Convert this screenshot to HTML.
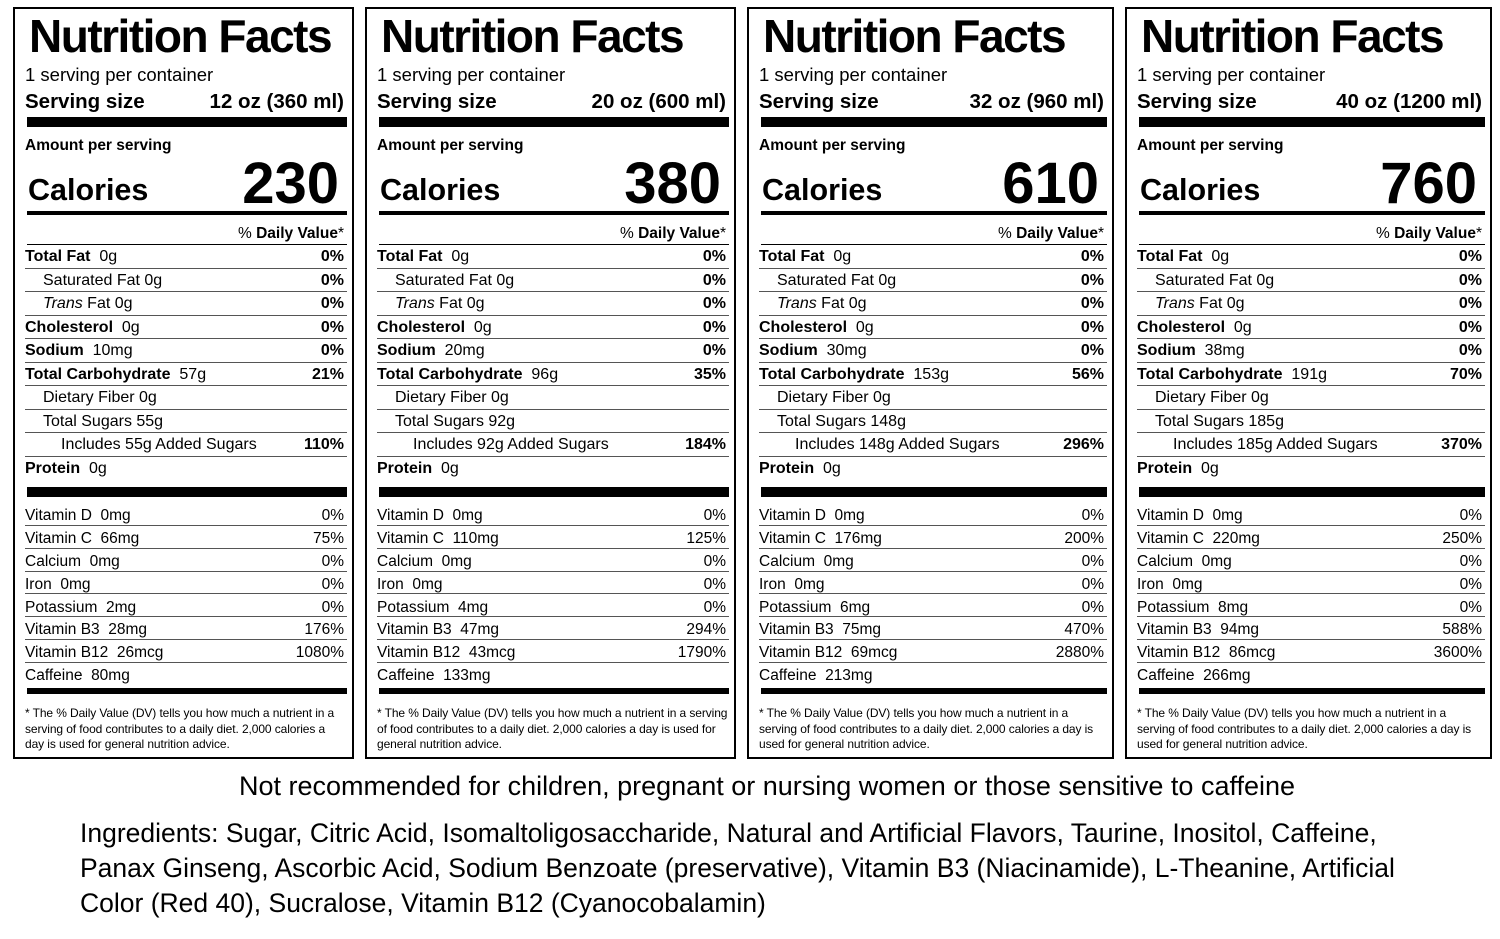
<!DOCTYPE html>
<html><head><meta charset="utf-8"><style>
*{margin:0;padding:0;box-sizing:border-box}
body{width:1500px;height:939px;background:#fff;position:relative;font-family:"Liberation Sans",Arial,sans-serif;color:#000;overflow:hidden}
.p{position:absolute;top:0;height:939px}
.fr{position:absolute;left:0;top:7px;right:0;height:752px;border:2px solid #000}
.a{position:absolute;left:12px;right:10px;white-space:nowrap}
.t{top:12px;font-size:46px;font-weight:bold;letter-spacing:-1.5px;line-height:48px;left:16px}
.s1{top:64px;font-size:18.5px;line-height:22px}
.s2{top:91px;font-size:20.5px;font-weight:bold;line-height:22px}
.r{float:right}
.bar{position:absolute;left:14px;right:7px;background:#000}
.aps{top:136px;font-size:15.5px;font-weight:bold;line-height:20px}
.cal{top:170px;font-size:30.5px;font-weight:bold;line-height:40px;left:15px}
.num{position:absolute;right:15px;top:151px;font-size:58px;font-weight:bold;line-height:66px}
.dv{top:223px;font-size:15.5px;line-height:22px;text-align:right;padding-right:0}
.row{position:absolute;left:12px;right:7px;height:23.5px;line-height:24px;font-size:16px;border-bottom:1px solid #555;white-space:nowrap;padding-right:3px}
.row b{font-weight:bold}
.row .r{font-weight:bold}
.v{position:absolute;left:12px;right:7px;height:22.8px;line-height:25px;font-size:15.5px;border-bottom:1px solid #555;white-space:nowrap;padding-right:3px}
.fn{top:706px;font-size:12px;line-height:15.5px;letter-spacing:-0.1px;white-space:normal;right:8px}
.i1{padding-left:18px}.i2{padding-left:36px}
.foot{position:absolute;left:0;width:1534px;text-align:center;top:770px;font-size:27px;line-height:32px}
.ing{position:absolute;left:80px;top:816px;font-size:26.5px;line-height:35px;white-space:nowrap}
</style></head><body>

<div class="p" style="left:13px;width:341px">
<div class="fr"></div>
<div class="a t">Nutrition Facts</div>
<div class="a s1">1 serving per container</div>
<div class="a s2">Serving size<span class="r">12 oz (360 ml)</span></div>
<div class="bar" style="top:117px;height:10px"></div>
<div class="a aps">Amount per serving</div>
<div class="a cal">Calories</div>
<div class="num">230</div>
<div class="bar" style="top:211px;height:4px"></div>
<div class="a dv">% <b>Daily Value</b>*</div>
<div class="bar" style="top:244px;height:1px"></div>
<div class="row" style="top:245px"><b>Total Fat</b>&nbsp; 0g<span class="r">0%</span></div>
<div class="row i1" style="top:268.5px">Saturated Fat 0g<span class="r">0%</span></div>
<div class="row i1" style="top:292px"><i>Trans</i> Fat 0g<span class="r">0%</span></div>
<div class="row" style="top:315.5px"><b>Cholesterol</b>&nbsp; 0g<span class="r">0%</span></div>
<div class="row" style="top:339px"><b>Sodium</b>&nbsp; 10mg<span class="r">0%</span></div>
<div class="row" style="top:362.5px"><b>Total Carbohydrate</b>&nbsp; 57g<span class="r">21%</span></div>
<div class="row i1" style="top:386px">Dietary Fiber 0g</div>
<div class="row i1" style="top:409.5px">Total Sugars 55g</div>
<div class="row i2" style="top:433px">Includes 55g Added Sugars<span class="r">110%</span></div>
<div class="row" style="top:457px;border:none"><b>Protein</b>&nbsp; 0g</div>
<div class="bar" style="top:487px;height:10px"></div>
<div class="v" style="top:503px">Vitamin D&nbsp; 0mg<span class="r">0%</span></div>
<div class="v" style="top:526px">Vitamin C&nbsp; 66mg<span class="r">75%</span></div>
<div class="v" style="top:549px">Calcium&nbsp; 0mg<span class="r">0%</span></div>
<div class="v" style="top:571.5px">Iron&nbsp; 0mg<span class="r">0%</span></div>
<div class="v" style="top:594.5px">Potassium&nbsp; 2mg<span class="r">0%</span></div>
<div class="v" style="top:617px">Vitamin B3&nbsp; 28mg<span class="r">176%</span></div>
<div class="v" style="top:640px">Vitamin B12&nbsp; 26mcg<span class="r">1080%</span></div>
<div class="v" style="top:663px;border:none">Caffeine&nbsp; 80mg</div>
<div class="bar" style="top:688px;height:6px"></div>
<div class="a fn">* The % Daily Value (DV) tells you how much a nutrient in a serving of food contributes to a daily diet. 2,000 calories a day is used for general nutrition advice.</div>
</div>

<div class="p" style="left:365px;width:371px">
<div class="fr"></div>
<div class="a t">Nutrition Facts</div>
<div class="a s1">1 serving per container</div>
<div class="a s2">Serving size<span class="r">20 oz (600 ml)</span></div>
<div class="bar" style="top:117px;height:10px"></div>
<div class="a aps">Amount per serving</div>
<div class="a cal">Calories</div>
<div class="num">380</div>
<div class="bar" style="top:211px;height:4px"></div>
<div class="a dv">% <b>Daily Value</b>*</div>
<div class="bar" style="top:244px;height:1px"></div>
<div class="row" style="top:245px"><b>Total Fat</b>&nbsp; 0g<span class="r">0%</span></div>
<div class="row i1" style="top:268.5px">Saturated Fat 0g<span class="r">0%</span></div>
<div class="row i1" style="top:292px"><i>Trans</i> Fat 0g<span class="r">0%</span></div>
<div class="row" style="top:315.5px"><b>Cholesterol</b>&nbsp; 0g<span class="r">0%</span></div>
<div class="row" style="top:339px"><b>Sodium</b>&nbsp; 20mg<span class="r">0%</span></div>
<div class="row" style="top:362.5px"><b>Total Carbohydrate</b>&nbsp; 96g<span class="r">35%</span></div>
<div class="row i1" style="top:386px">Dietary Fiber 0g</div>
<div class="row i1" style="top:409.5px">Total Sugars 92g</div>
<div class="row i2" style="top:433px">Includes 92g Added Sugars<span class="r">184%</span></div>
<div class="row" style="top:457px;border:none"><b>Protein</b>&nbsp; 0g</div>
<div class="bar" style="top:487px;height:10px"></div>
<div class="v" style="top:503px">Vitamin D&nbsp; 0mg<span class="r">0%</span></div>
<div class="v" style="top:526px">Vitamin C&nbsp; 110mg<span class="r">125%</span></div>
<div class="v" style="top:549px">Calcium&nbsp; 0mg<span class="r">0%</span></div>
<div class="v" style="top:571.5px">Iron&nbsp; 0mg<span class="r">0%</span></div>
<div class="v" style="top:594.5px">Potassium&nbsp; 4mg<span class="r">0%</span></div>
<div class="v" style="top:617px">Vitamin B3&nbsp; 47mg<span class="r">294%</span></div>
<div class="v" style="top:640px">Vitamin B12&nbsp; 43mcg<span class="r">1790%</span></div>
<div class="v" style="top:663px;border:none">Caffeine&nbsp; 133mg</div>
<div class="bar" style="top:688px;height:6px"></div>
<div class="a fn">* The % Daily Value (DV) tells you how much a nutrient in a serving of food contributes to a daily diet. 2,000 calories a day is used for general nutrition advice.</div>
</div>

<div class="p" style="left:747px;width:367px">
<div class="fr"></div>
<div class="a t">Nutrition Facts</div>
<div class="a s1">1 serving per container</div>
<div class="a s2">Serving size<span class="r">32 oz (960 ml)</span></div>
<div class="bar" style="top:117px;height:10px"></div>
<div class="a aps">Amount per serving</div>
<div class="a cal">Calories</div>
<div class="num">610</div>
<div class="bar" style="top:211px;height:4px"></div>
<div class="a dv">% <b>Daily Value</b>*</div>
<div class="bar" style="top:244px;height:1px"></div>
<div class="row" style="top:245px"><b>Total Fat</b>&nbsp; 0g<span class="r">0%</span></div>
<div class="row i1" style="top:268.5px">Saturated Fat 0g<span class="r">0%</span></div>
<div class="row i1" style="top:292px"><i>Trans</i> Fat 0g<span class="r">0%</span></div>
<div class="row" style="top:315.5px"><b>Cholesterol</b>&nbsp; 0g<span class="r">0%</span></div>
<div class="row" style="top:339px"><b>Sodium</b>&nbsp; 30mg<span class="r">0%</span></div>
<div class="row" style="top:362.5px"><b>Total Carbohydrate</b>&nbsp; 153g<span class="r">56%</span></div>
<div class="row i1" style="top:386px">Dietary Fiber 0g</div>
<div class="row i1" style="top:409.5px">Total Sugars 148g</div>
<div class="row i2" style="top:433px">Includes 148g Added Sugars<span class="r">296%</span></div>
<div class="row" style="top:457px;border:none"><b>Protein</b>&nbsp; 0g</div>
<div class="bar" style="top:487px;height:10px"></div>
<div class="v" style="top:503px">Vitamin D&nbsp; 0mg<span class="r">0%</span></div>
<div class="v" style="top:526px">Vitamin C&nbsp; 176mg<span class="r">200%</span></div>
<div class="v" style="top:549px">Calcium&nbsp; 0mg<span class="r">0%</span></div>
<div class="v" style="top:571.5px">Iron&nbsp; 0mg<span class="r">0%</span></div>
<div class="v" style="top:594.5px">Potassium&nbsp; 6mg<span class="r">0%</span></div>
<div class="v" style="top:617px">Vitamin B3&nbsp; 75mg<span class="r">470%</span></div>
<div class="v" style="top:640px">Vitamin B12&nbsp; 69mcg<span class="r">2880%</span></div>
<div class="v" style="top:663px;border:none">Caffeine&nbsp; 213mg</div>
<div class="bar" style="top:688px;height:6px"></div>
<div class="a fn">* The % Daily Value (DV) tells you how much a nutrient in a serving of food contributes to a daily diet. 2,000 calories a day is used for general nutrition advice.</div>
</div>

<div class="p" style="left:1125px;width:367px">
<div class="fr"></div>
<div class="a t">Nutrition Facts</div>
<div class="a s1">1 serving per container</div>
<div class="a s2">Serving size<span class="r">40 oz (1200 ml)</span></div>
<div class="bar" style="top:117px;height:10px"></div>
<div class="a aps">Amount per serving</div>
<div class="a cal">Calories</div>
<div class="num">760</div>
<div class="bar" style="top:211px;height:4px"></div>
<div class="a dv">% <b>Daily Value</b>*</div>
<div class="bar" style="top:244px;height:1px"></div>
<div class="row" style="top:245px"><b>Total Fat</b>&nbsp; 0g<span class="r">0%</span></div>
<div class="row i1" style="top:268.5px">Saturated Fat 0g<span class="r">0%</span></div>
<div class="row i1" style="top:292px"><i>Trans</i> Fat 0g<span class="r">0%</span></div>
<div class="row" style="top:315.5px"><b>Cholesterol</b>&nbsp; 0g<span class="r">0%</span></div>
<div class="row" style="top:339px"><b>Sodium</b>&nbsp; 38mg<span class="r">0%</span></div>
<div class="row" style="top:362.5px"><b>Total Carbohydrate</b>&nbsp; 191g<span class="r">70%</span></div>
<div class="row i1" style="top:386px">Dietary Fiber 0g</div>
<div class="row i1" style="top:409.5px">Total Sugars 185g</div>
<div class="row i2" style="top:433px">Includes 185g Added Sugars<span class="r">370%</span></div>
<div class="row" style="top:457px;border:none"><b>Protein</b>&nbsp; 0g</div>
<div class="bar" style="top:487px;height:10px"></div>
<div class="v" style="top:503px">Vitamin D&nbsp; 0mg<span class="r">0%</span></div>
<div class="v" style="top:526px">Vitamin C&nbsp; 220mg<span class="r">250%</span></div>
<div class="v" style="top:549px">Calcium&nbsp; 0mg<span class="r">0%</span></div>
<div class="v" style="top:571.5px">Iron&nbsp; 0mg<span class="r">0%</span></div>
<div class="v" style="top:594.5px">Potassium&nbsp; 8mg<span class="r">0%</span></div>
<div class="v" style="top:617px">Vitamin B3&nbsp; 94mg<span class="r">588%</span></div>
<div class="v" style="top:640px">Vitamin B12&nbsp; 86mcg<span class="r">3600%</span></div>
<div class="v" style="top:663px;border:none">Caffeine&nbsp; 266mg</div>
<div class="bar" style="top:688px;height:6px"></div>
<div class="a fn">* The % Daily Value (DV) tells you how much a nutrient in a serving of food contributes to a daily diet. 2,000 calories a day is used for general nutrition advice.</div>
</div>

<div class="foot">Not recommended for children, pregnant or nursing women or those sensitive to caffeine</div>
<div class="ing">Ingredients: Sugar, Citric Acid, Isomaltoligosaccharide, Natural and Artificial Flavors, Taurine, Inositol, Caffeine,<br>Panax Ginseng, Ascorbic Acid, Sodium Benzoate (preservative), Vitamin B3 (Niacinamide), L-Theanine, Artificial<br>Color (Red 40), Sucralose, Vitamin B12 (Cyanocobalamin)</div>
</body></html>
